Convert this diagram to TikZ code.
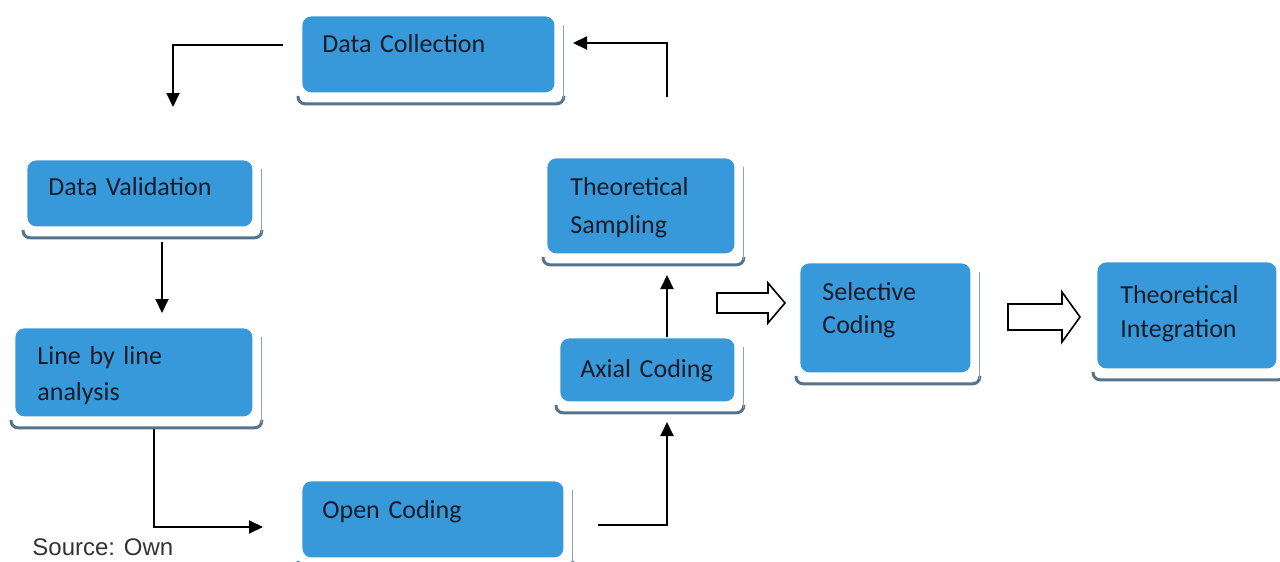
\documentclass[tikz,border=0pt]{standalone}
\usepackage{fontspec}
\setmainfont{Carlito}
\newfontfamily\srcfont{Liberation Sans}
\usetikzlibrary{arrows.meta,backgrounds}
\definecolor{boxblue}{RGB}{56,153,218}
\definecolor{shadowc}{RGB}{85,115,140}
\definecolor{shadowr}{RGB}{150,160,170}
\definecolor{txt}{RGB}{25,28,40}
\begin{document}
\begin{tikzpicture}[x=0.5pt,y=-0.5pt,
 box/.style={fill=boxblue, draw=none, rounded corners=4.5pt, anchor=north west, inner sep=0pt},
 lbl/.style={anchor=base west, inner sep=0pt, text width=150pt, align=left, text=txt, font=\fontsize{13pt}{#1}\selectfont},
 lbl/.default=17.5pt,
 conn/.style={draw=black, line width=1pt, -{Triangle[length=7pt,width=6.5pt]}},
 blockarrow/.style={draw=black, fill=white, line width=0.8pt, line join=miter},
 shadeb/.style={draw=shadowc, line width=1.5pt, rounded corners=3.5pt},
 shader/.style={draw=shadowr, line width=0.6pt}
]
\useasboundingbox (0,0) rectangle (1280,562);

% boxes
\node[box, minimum width=126pt, minimum height=38pt] (dc) at (302,16) {};
\node[box, minimum width=112.5pt, minimum height=33pt] (dv) at (27,160) {};
\node[box, minimum width=118.5pt, minimum height=44pt] (ll) at (15,328) {};
\node[box, minimum width=130.5pt, minimum height=38pt] (oc) at (302,481) {};
\node[box, minimum width=93.5pt, minimum height=47.5pt] (ts) at (547,158) {};
\node[box, minimum width=87pt, minimum height=31.5pt] (ac) at (560,338) {};
\node[box, minimum width=85pt, minimum height=54.5pt] (sc) at (800,263) {};
\node[box, minimum width=89.5pt, minimum height=53pt] (ti) at (1097,262) {};

% shadows
\begin{pgfonlayer}{background}
\foreach \n in {dc,dv,ll,oc,ts,ac,sc,ti}{
  \draw[shadeb] ([xshift=-2pt,yshift=-1.5pt]\n.south west) -- ([xshift=-2pt,yshift=-5.5pt]\n.south west)
     -- ([xshift=4.5pt,yshift=-5.5pt]\n.south east) -- ([xshift=4.5pt,yshift=-1.5pt]\n.south east);
  \draw[shader] ([xshift=4.5pt,yshift=-3pt]\n.south east) -- ([xshift=4.5pt,yshift=-4.5pt]\n.north east);
}
\end{pgfonlayer}

% labels
\node[lbl] (tdc) at (322,53) {Data Collection};
\node[lbl] (tdv) at (48,195) {Data Validation};
\node[lbl=18pt] (tll) at (37,364) {Line by line\\analysis};
\node[lbl] (toc) at (322,518) {Open Coding};
\node[lbl=19pt] (tts) at (570,195) {Theoretical\\Sampling};
\node[lbl] (tac) at (580,377) {Axial Coding};
\node[lbl=16.5pt] (tsc) at (822,300) {Selective\\Coding};
\node[lbl=17pt] (tti) at (1120,303) {Theoretical\\Integration};
\node[anchor=base west, inner sep=0pt, text=black!80, font=\srcfont\fontsize{12pt}{14pt}\selectfont] (src) at (32,555) {Source: Own};

% connector end points
\coordinate (a1s) at (283,45);  \coordinate (a1e) at (173,107);
\coordinate (a2s) at (667,97);  \coordinate (a2e) at (573,43);
\coordinate (a3s) at (162,242); \coordinate (a3e) at (162,313);
\coordinate (a4s) at (154,429); \coordinate (a4e) at (263,527);
\coordinate (a5s) at (598,525); \coordinate (a5e) at (667,422);
\coordinate (a6s) at (667,337); \coordinate (a6e) at (667,275);

\draw[conn] (a1s) -| (a1e);
\draw[conn] (a2s) |- (a2e);
\draw[conn] (a3s) -- (a3e);
\draw[conn] (a4s) |- (a4e);
\draw[conn] (a5s) -| (a5e);
\draw[conn] (a6s) -- (a6e);

% block arrows
\draw[blockarrow] (717,293) -- (768,293) -- (768,283) -- (785,303) -- (768,323) -- (768,313) -- (717,313) -- cycle;
\draw[blockarrow] (1008,304) -- (1062,304) -- (1062,292) -- (1080,317) -- (1062,342) -- (1062,330) -- (1008,330) -- cycle;
\end{tikzpicture}
\end{document}
